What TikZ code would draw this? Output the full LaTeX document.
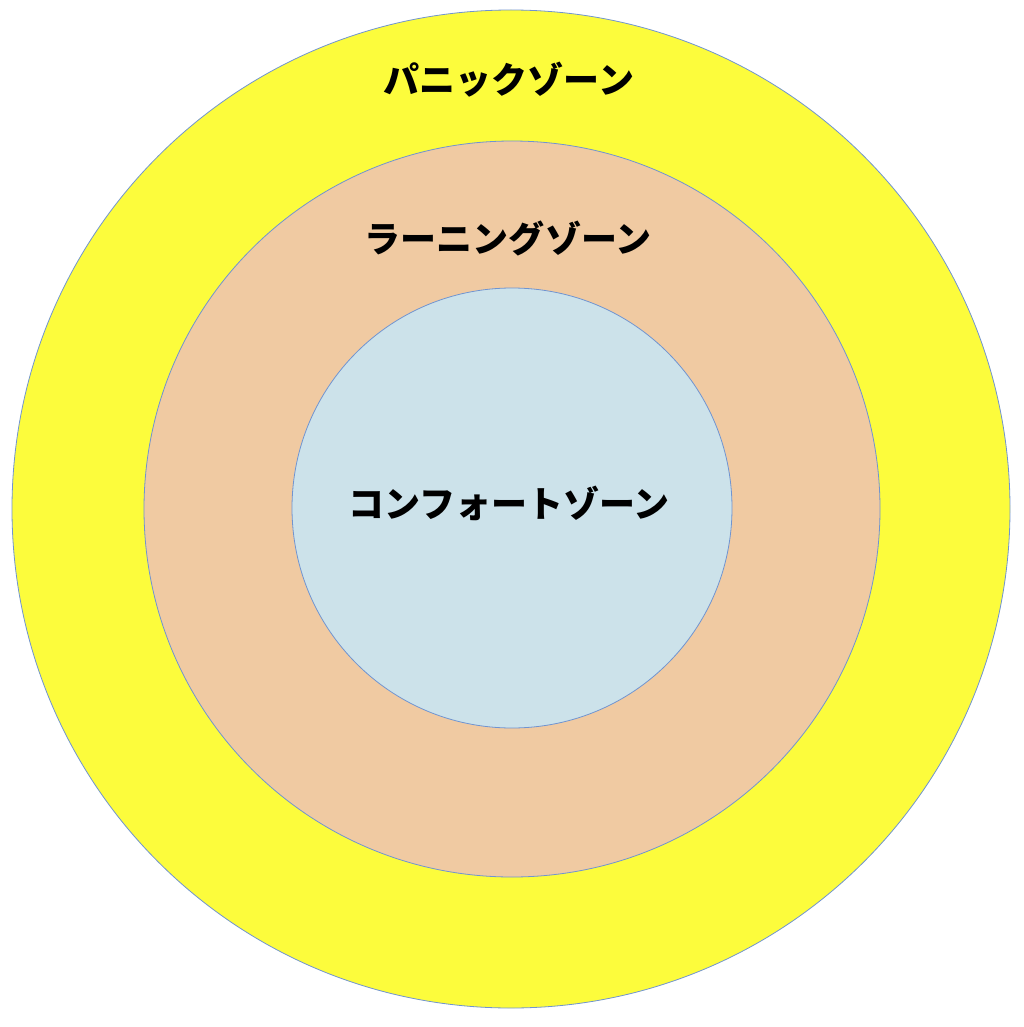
\documentclass[tikz,border=0pt]{standalone}
\usepackage{fontspec}
\newfontfamily\cjk{Noto Sans CJK JP}
\definecolor{yel}{HTML}{FCFC3C}
\definecolor{peach}{HTML}{F0CAA2}
\definecolor{lblue}{HTML}{CCE2EA}
\definecolor{edge}{HTML}{7094D0}
\begin{document}
\begin{tikzpicture}[x=1pt,y=-1pt,
  zone/.style={circle,draw=edge,line width=0.8pt,inner sep=0pt},
  lab/.style={font=\cjk\bfseries\fontsize{36}{40}\selectfont,inner sep=0pt}]
\useasboundingbox (0,0) rectangle (1024,1027);
\node[zone,fill=yel,minimum size=998pt] (outer) at (511,509) {};
\node[zone,fill=peach,minimum size=736pt] (mid) at (512,509) {};
\node[zone,fill=lblue,minimum size=440pt] (inner) at (512,508) {};
\node[lab] (t1) at (509,80) {パニックゾーン};
\node[lab] (t2) at (508,238) {ラーニングゾーン};
\node[lab] (t3) at (509,503) {コンフォートゾーン};
\end{tikzpicture}
\end{document}
